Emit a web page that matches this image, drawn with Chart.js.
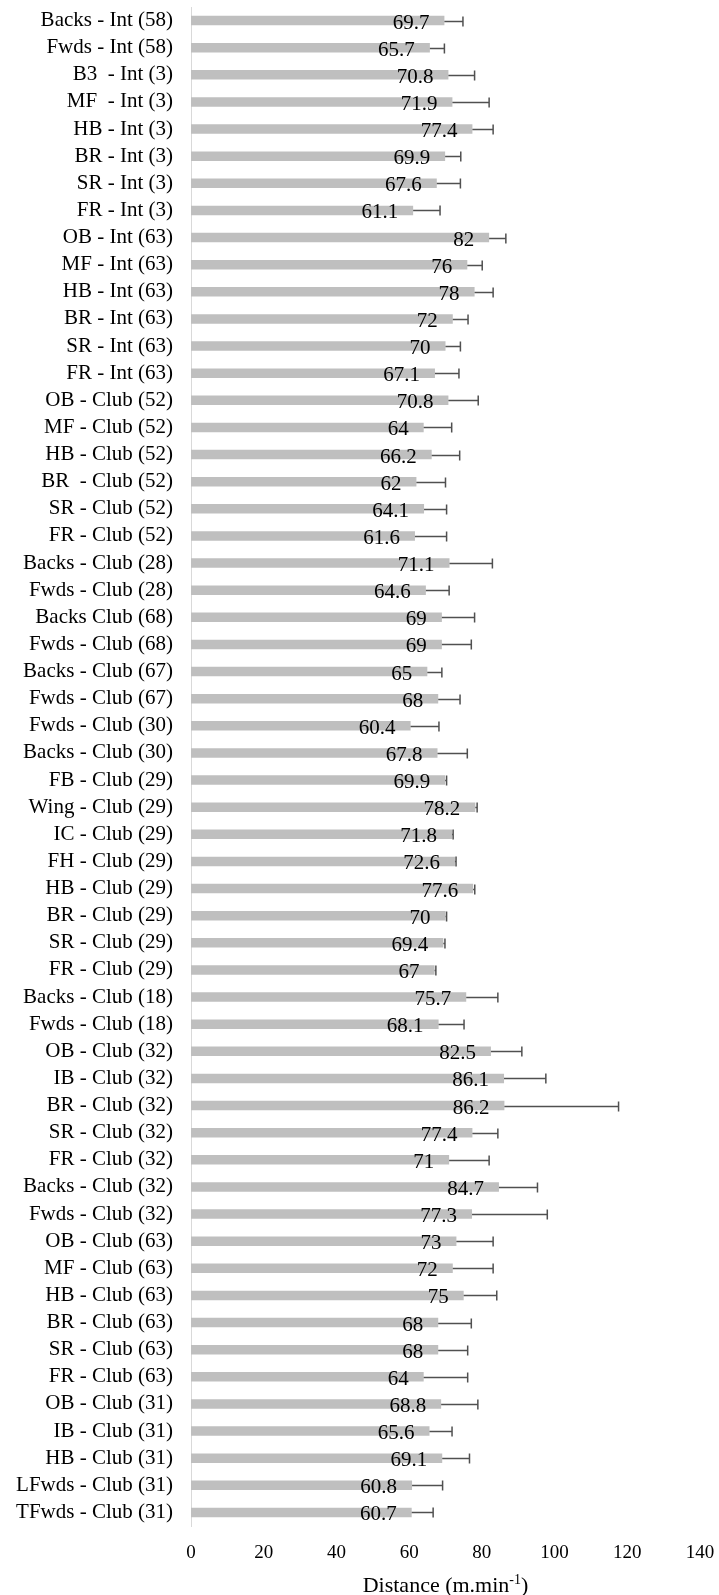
<!DOCTYPE html>
<html><head><meta charset="utf-8">
<script src="https://cdn.jsdelivr.net/npm/chart.js@4/dist/chart.umd.min.js"></script>
<style>html,body{margin:0;padding:0;background:#fff;}canvas{display:block;}</style>
</head><body>
<div style="width:719px;height:1595px"><canvas id="c" width="719" height="1595"></canvas></div>
<script>
const categories = [
  "Backs - Int (58)", "Fwds - Int (58)", "B3  - Int (3)", "MF  - Int (3)", "HB - Int (3)", "BR - Int (3)",
  "SR - Int (3)", "FR - Int (3)", "OB - Int (63)", "MF - Int (63)", "HB - Int (63)", "BR - Int (63)",
  "SR - Int (63)", "FR - Int (63)", "OB - Club (52)", "MF - Club (52)", "HB - Club (52)", "BR  - Club (52)",
  "SR - Club (52)", "FR - Club (52)", "Backs - Club (28)", "Fwds - Club (28)", "Backs Club (68)", "Fwds - Club (68)",
  "Backs - Club (67)", "Fwds - Club (67)", "Fwds - Club (30)", "Backs - Club (30)", "FB - Club (29)", "Wing - Club (29)",
  "IC - Club (29)", "FH - Club (29)", "HB - Club (29)", "BR - Club (29)", "SR - Club (29)", "FR - Club (29)",
  "Backs - Club (18)", "Fwds - Club (18)", "OB - Club (32)", "IB - Club (32)", "BR - Club (32)", "SR - Club (32)",
  "FR - Club (32)", "Backs - Club (32)", "Fwds - Club (32)", "OB - Club (63)", "MF - Club (63)", "HB - Club (63)",
  "BR - Club (63)", "SR - Club (63)", "FR - Club (63)", "OB - Club (31)", "IB - Club (31)", "HB - Club (31)",
  "LFwds - Club (31)", "TFwds - Club (31)"
];
const means = [
  69.7, 65.7, 70.8, 71.9, 77.4, 69.9, 67.6, 61.1, 82, 76, 78, 72,
  70, 67.1, 70.8, 64, 66.2, 62, 64.1, 61.6, 71.1, 64.6, 69, 69,
  65, 68, 60.4, 67.8, 69.9, 78.2, 71.8, 72.6, 77.6, 70, 69.4, 67,
  75.7, 68.1, 82.5, 86.1, 86.2, 77.4, 71, 84.7, 77.3, 73, 72, 75,
  68, 68, 64, 68.8, 65.6, 69.1, 60.8, 60.7
];
const errorsPlus = [
  5.1, 4.0, 7.2, 10.1, 5.7, 4.3, 6.5, 7.4, 4.6, 4.1, 5.1, 4.2,
  4.1, 6.6, 8.2, 7.7, 7.7, 8.0, 6.2, 8.7, 11.8, 6.4, 9.0, 8.1,
  4.0, 6.0, 7.8, 8.2, 0.4, 0.5, 0.3, 0.3, 0.45, 0.3, 0.45, 0.35,
  8.7, 7.0, 8.5, 11.5, 31.4, 7.0, 11.0, 10.6, 20.7, 10.1, 11.1, 9.1,
  9.1, 8.1, 12.1, 10.1, 6.2, 7.5, 8.4, 5.9
];
const xTickValues = [0, 20, 40, 60, 80, 100, 120, 140];
const axisTitleMain = "Distance (m.min";
const axisTitleSup = "-1";
const axisTitleEnd = ")";

const SERIF = '"Liberation Serif", "Times New Roman", serif';

const overlay = {
  id: 'overlay',
  afterDatasetsDraw(chart) {
    const ctx = chart.ctx, xs = chart.scales.x;
    const meta = chart.getDatasetMeta(0);
    ctx.save();
    ctx.strokeStyle = '#505050';
    ctx.lineWidth = 1.5;
    meta.data.forEach((bar, i) => {
      const y = Math.round(bar.y) + 0.5;
      const x0 = xs.getPixelForValue(means[i]);
      const x1 = xs.getPixelForValue(means[i] + errorsPlus[i]);
      ctx.beginPath();
      ctx.moveTo(x0, y); ctx.lineTo(x1, y);
      ctx.moveTo(x1, y - 5); ctx.lineTo(x1, y + 5);
      ctx.stroke();
    });
    ctx.fillStyle = '#000';
    ctx.font = '21px ' + SERIF;
    ctx.textAlign = 'right';
    ctx.textBaseline = 'alphabetic';
    meta.data.forEach((bar, i) => {
      ctx.fillText(String(means[i]), bar.x - 15, bar.y + 8);
    });
    // axis title with superscript
    const ca = chart.chartArea;
    const cx = (ca.left + ca.right) / 2;
    const f1 = '22px ' + SERIF, f2 = '14px ' + SERIF;
    ctx.font = f1; const w1 = ctx.measureText(axisTitleMain).width;
    const w3 = ctx.measureText(axisTitleEnd).width;
    ctx.font = f2; const w2 = ctx.measureText(axisTitleSup).width;
    let x = cx - (w1 + w2 + w3) / 2;
    const by = 1592;
    ctx.textAlign = 'left';
    ctx.font = f1; ctx.fillText(axisTitleMain, x, by); x += w1;
    ctx.font = f2; ctx.fillText(axisTitleSup, x, by - 8); x += w2;
    ctx.font = f1; ctx.fillText(axisTitleEnd, x, by);
    ctx.restore();
  }
};

new Chart(document.getElementById('c'), {
  type: 'bar',
  data: {
    labels: categories,
    datasets: [{
      data: means,
      backgroundColor: '#bfbfbf',
      borderWidth: 0,
      categoryPercentage: 1.0,
      barPercentage: 0.35
    }]
  },
  options: {
    indexAxis: 'y',
    responsive: false,
    animation: false,
    devicePixelRatio: 1,
    layout: { padding: { top: 7, right: 19, left: 0, bottom: 0 } },
    plugins: { legend: { display: false }, tooltip: { enabled: false } },
    scales: {
      y: {
        grid: { display: false, drawTicks: false },
        border: { display: true, color: '#d9d9d9', width: 1 },
        ticks: { color: '#000', font: { family: SERIF, size: 21 }, padding: 18, autoSkip: false },
        afterFit(scale) { scale.width = 191; scale.paddingTop = 0; scale.paddingBottom = 0; }
      },
      x: {
        min: xTickValues[0], max: xTickValues[xTickValues.length - 1],
        afterBuildTicks(scale) { scale.ticks = xTickValues.map(v => ({ value: v })); },
        grid: { display: false, drawTicks: false },
        border: { display: false },
        ticks: { color: '#000', font: { family: SERIF, size: 19 }, padding: 16, maxRotation: 0 },
        afterFit(scale) { scale.height = 69; scale.paddingLeft = 0; scale.paddingRight = 0; }
      }
    }
  },
  plugins: [overlay]
});
</script>
</body></html>
